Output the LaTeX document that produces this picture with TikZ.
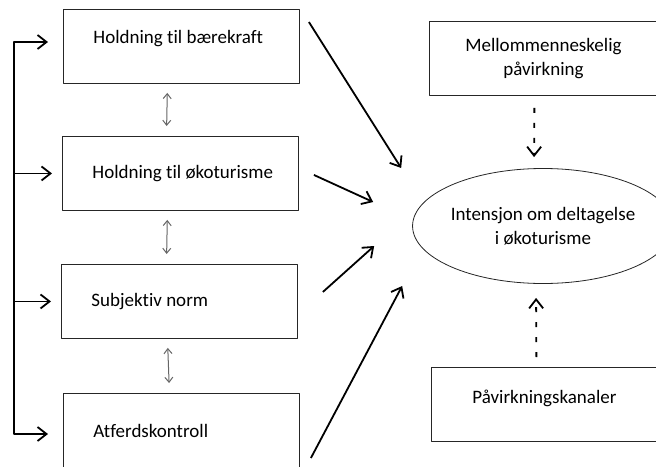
\documentclass[tikz,border=0pt]{standalone}
\usepackage{fontspec}
\setmainfont{Carlito}[Ligatures=NoCommon]
\usetikzlibrary{arrows.meta,shapes.geometric}
\tikzset{
	boks/.style={draw=black!85, line width=0.9pt, minimum width=236pt, minimum height=74pt,
		text width=176pt, inner xsep=30pt, align=flush left, anchor=north west},
	hboks/.style={draw=black!85, line width=0.9pt, minimum height=74pt, align=center, anchor=north west},
	pil/.style={line width=1.8pt, -{Straight Barb[length=9pt,width=14pt]}},
	dobbel/.style={draw=black!60, line width=1pt,
		{Straight Barb[length=5pt,width=8pt]}-{Straight Barb[length=5pt,width=8pt]},
		shorten <=9pt, shorten >=10pt},
	stiplet/.style={pil, dash pattern=on 5pt off 10pt}
}
\begin{document}
\begin{tikzpicture}[x=1pt, y=-1pt, line join=round, font=\fontsize{19}{24}\selectfont]
	\useasboundingbox (0,0) rectangle (656,466);
	% venstre kolonne
	\node[boks, text depth=20pt] (b1) at (63,9) {Holdning til bærekraft};
	\node[boks] (b2) at (62,136) {\mbox{Holdning til økoturisme}};
	\node[boks] (b3) at (61,264) {Subjektiv norm};
	\node[boks, minimum height=76pt] (b4) at (63,393) {Atferdskontroll};
	% høyre kolonne
	\node[hboks, minimum width=228pt] (r1) at (429,21) {Mellommenneskelig\\påvirkning};
	\node[hboks, minimum width=226pt, text depth=16pt] (r2) at (431,367) {Påvirkningskanaler};
	\node[ellipse, draw=black!85, line width=0.8pt, minimum width=230pt, minimum height=115pt,
		inner sep=0pt, align=center] (mal) at (543,226) {Intensjon om deltagelse\\i økoturisme};
	% skinne til venstre
	\coordinate (skinne) at (14,42);
	\coordinate (skinnebunn) at (14,434);
	\draw[pil, {Straight Barb[length=9pt,width=14pt]}-{Straight Barb[length=9pt,width=14pt]},
		shorten <=15pt, shorten >=15pt]
		(skinnebunn -| b4.west) -- (skinnebunn) -- (skinne) -- (skinne -| b1.west);
	\draw[pil, shorten >=10pt] (skinne |- b2.west) -- (b2.west);
	\draw[pil, shorten >=10pt] (skinne |- b3.west) -- (b3.west);
	% doble piler
	\draw[dobbel] ([xshift=-14pt]b1.south) -- ([xshift=-14pt]b2.north);
	\draw[dobbel] ([xshift=-13pt]b2.south) -- ([xshift=-13pt]b3.north);
	\draw[dobbel] ([xshift=-12pt]b3.south) -- ([xshift=-12pt]b4.north);
	% piler mot intensjon
	\draw[pil] ([shift={(9,13)}]b1.north east) -- ([shift={(-11,-58)}]mal.west);
	\draw[pil] ([shift={(15,1.5)}]b2.east) -- ([shift={(-39,-24)}]mal.west);
	\draw[pil] ([shift={(25,-9.5)}]b3.east) -- ([shift={(-38,20)}]mal.west);
	\draw[pil] ([shift={(11,65)}]b4.north east) -- ([shift={(-10,60)}]mal.west);
	\draw[stiplet, shorten <=12pt, shorten >=11pt] ([xshift=-9pt]r1.south) -- ([xshift=-9pt]mal.north);
	\draw[stiplet, shorten <=10pt, shorten >=14pt] ([xshift=-8pt]r2.north) -- ([xshift=-7pt]mal.south);
\end{tikzpicture}
\end{document}
